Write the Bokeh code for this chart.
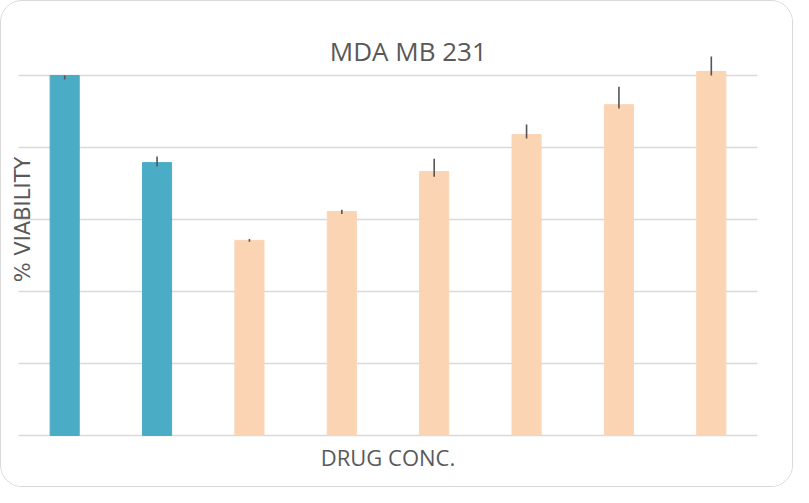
from bokeh.plotting import figure
from bokeh.models import ColumnDataSource, Label, Range1d
from bokeh.embed import file_html
from bokeh.resources import INLINE

# ---- data ----
categories = ["C1", "C2", "C3", "C4", "C5", "C6", "C7", "C8"]
viability = [100.0, 75.8, 54.2, 62.2, 73.3, 83.6, 91.9, 101.1]
err_upper = [100.0, 77.5, 54.6, 62.7, 76.9, 86.4, 96.9, 105.3]
err_lower = [98.9, 74.7, 53.8, 61.5, 71.9, 82.5, 90.8, 100.0]
bar_colors = ["#4BACC6", "#4BACC6", "#FBD4B4", "#FBD4B4",
              "#FBD4B4", "#FBD4B4", "#FBD4B4", "#FBD4B4"]
y_ticks = [0, 20, 40, 60, 80, 100]
title_text = "MDA MB 231"
x_label = "DRUG CONC."
y_label = "% VIABILITY"

n = len(categories)
xpos = [i + 0.5 for i in range(n)]
src = ColumnDataSource(dict(x=xpos, top=viability, up=err_upper, lo=err_lower,
                            color=bar_colors))
grid_src = ColumnDataSource(dict(x0=[0] * len(y_ticks), x1=[n] * len(y_ticks),
                                 y=y_ticks))

p = figure(width=793, height=487, output_backend="svg", toolbar_location=None,
           x_range=Range1d(-0.184, n), y_range=Range1d(-14.72, 114.44),
           min_border_left=0, min_border_right=37, min_border_top=22,
           min_border_bottom=0)
p.styles = {"border": "1.5px solid #d9d9d9", "border-radius": "22px",
            "overflow": "hidden"}
p.outline_line_color = None
p.background_fill_color = "white"
p.border_fill_color = "white"

p.xaxis.visible = False
p.yaxis.visible = False
p.xgrid.visible = False
p.ygrid.visible = False

# horizontal gridlines at the value-axis ticks
p.segment(x0="x0", x1="x1", y0="y", y1="y", line_color="#d9d9d9",
          line_width=1.6, source=grid_src)

p.vbar(x="x", top="top", width=0.315, bottom=0, color="color", source=src)
p.segment(x0="x", y0="lo", x1="x", y1="up", line_color="#555555",
          line_width=1.6, source=src)

p.add_layout(Label(x=4.22, y=106.7, text=title_text, text_font="Open Sans",
                   text_font_size="26px", text_color="#595959",
                   text_align="center", text_baseline="middle"))
p.add_layout(Label(x=0.045, y=60.0, text=y_label, text_font="DejaVu Sans",
                   text_font_size="21px", text_color="#595959", angle=90,
                   angle_units="deg", text_align="center",
                   text_baseline="middle"))
p.add_layout(Label(x=n / 2, y=-6.1, text=x_label, text_font="Open Sans",
                   text_font_size="22px", text_color="#595959",
                   text_align="center", text_baseline="middle"))

open("out.html", "w").write(file_html(p, INLINE))
